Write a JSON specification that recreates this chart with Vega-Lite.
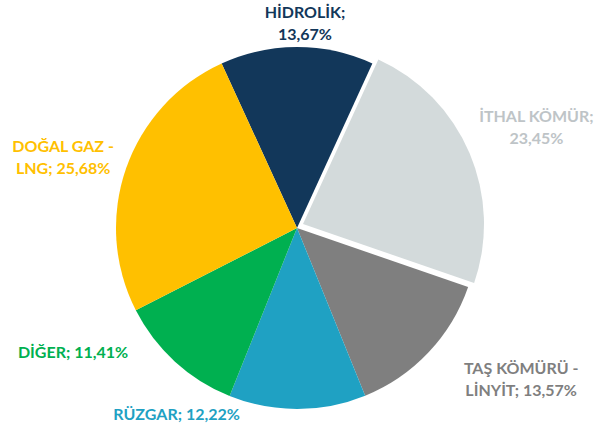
{
  "$schema": "https://vega.github.io/schema/vega-lite/v6.json",
  "width": 594,
  "height": 456,
  "padding": 0,
  "autosize": {"type": "none"},
  "background": "white",
  "view": {"stroke": null},
  "data": {"values": [
    {"cat": "HİDROLİK", "value": 13.67, "order": 1, "label": "HİDROLİK;\n13,67%"},
    {"cat": "İTHAL KÖMÜR", "value": 23.45, "order": 2, "label": "İTHAL KÖMÜR;\n23,45%"},
    {"cat": "TAŞ KÖMÜRÜ - LİNYİT", "value": 13.57, "order": 3, "label": "TAŞ KÖMÜRÜ -\nLİNYİT; 13,57%"},
    {"cat": "RÜZGAR", "value": 12.22, "order": 4, "label": "RÜZGAR; 12,22%"},
    {"cat": "DİĞER", "value": 11.41, "order": 5, "label": "DİĞER; 11,41%"},
    {"cat": "DOĞAL GAZ - LNG", "value": 25.68, "order": 6, "label": "DOĞAL GAZ -\nLNG; 25,68%"}
  ]},
  "transform": [
    {"stack": "value", "groupby": [], "sort": [{"field": "order", "order": "ascending"}], "as": ["v0", "v1"]},
    {"calculate": "(datum.v0 + datum.v1) / 2", "as": "mid"}
  ],
  "encoding": {
    "theta": {"field": "v0", "type": "quantitative", "scale": {"domain": [0, 100], "range": [-0.4295, 5.8537]}},
    "theta2": {"field": "v1"},
    "color": {"field": "cat", "type": "nominal", "legend": null,
      "scale": {"domain": ["HİDROLİK", "İTHAL KÖMÜR", "TAŞ KÖMÜRÜ - LİNYİT", "RÜZGAR", "DİĞER", "DOĞAL GAZ - LNG"],
                "range": ["#12375A", "#D3DADB", "#7F7F7F", "#1FA1C3", "#00B050", "#FFC000"]}}
  },
  "layer": [
    {"transform": [{"filter": "datum.cat != 'İTHAL KÖMÜR'"}], "mark": {"type": "arc", "outerRadius": 181}},
    {"transform": [{"filter": "datum.cat == 'İTHAL KÖMÜR'"}], "mark": {"type": "arc", "outerRadius": 181, "xOffset": 6, "yOffset": -4}},
    {"transform": [{"filter": "datum.cat == 'HİDROLİK'"}],
     "mark": {"type": "text", "radius": 204, "dx": 8, "dy": -11, "font": "Lato", "fontWeight": "bold", "fontSize": 16, "lineBreak": "\n", "lineHeight": 22, "align": "center", "baseline": "middle", "color": "#12375A"},
     "encoding": {"theta": {"field": "mid", "type": "quantitative"}, "theta2": null, "color": null, "text": {"field": "label"}}},
    {"transform": [{"filter": "datum.cat == 'İTHAL KÖMÜR'"}],
     "mark": {"type": "text", "radius": 255, "dx": 5, "dy": -11, "font": "Lato", "fontWeight": "bold", "fontSize": 16, "lineBreak": "\n", "lineHeight": 22, "align": "center", "baseline": "middle", "color": "#BEC4C7"},
     "encoding": {"theta": {"field": "mid", "type": "quantitative"}, "theta2": null, "color": null, "text": {"field": "label"}}},
    {"transform": [{"filter": "datum.cat == 'TAŞ KÖMÜRÜ - LİNYİT'"}],
     "mark": {"type": "text", "radius": 255, "dx": 39, "dy": -34, "font": "Lato", "fontWeight": "bold", "fontSize": 16, "lineBreak": "\n", "lineHeight": 22, "align": "center", "baseline": "middle", "color": "#7F7F7F"},
     "encoding": {"theta": {"field": "mid", "type": "quantitative"}, "theta2": null, "color": null, "text": {"field": "label"}}},
    {"transform": [{"filter": "datum.cat == 'RÜZGAR'"}],
     "mark": {"type": "text", "radius": 255, "dx": -121, "dy": -68, "font": "Lato", "fontWeight": "bold", "fontSize": 16, "lineBreak": "\n", "lineHeight": 22, "align": "center", "baseline": "middle", "color": "#1FA1C3"},
     "encoding": {"theta": {"field": "mid", "type": "quantitative"}, "theta2": null, "color": null, "text": {"field": "label"}}},
    {"transform": [{"filter": "datum.cat == 'DİĞER'"}],
     "mark": {"type": "text", "radius": 255, "dx": -52, "dy": -63, "font": "Lato", "fontWeight": "bold", "fontSize": 16, "lineBreak": "\n", "lineHeight": 22, "align": "center", "baseline": "middle", "color": "#00B050"},
     "encoding": {"theta": {"field": "mid", "type": "quantitative"}, "theta2": null, "color": null, "text": {"field": "label"}}},
    {"transform": [{"filter": "datum.cat == 'DOĞAL GAZ - LNG'"}],
     "mark": {"type": "text", "radius": 255, "dx": 7, "dy": 3, "font": "Lato", "fontWeight": "bold", "fontSize": 16, "lineBreak": "\n", "lineHeight": 22, "align": "center", "baseline": "middle", "color": "#FFC000"},
     "encoding": {"theta": {"field": "mid", "type": "quantitative"}, "theta2": null, "color": null, "text": {"field": "label"}}}
  ]
}
